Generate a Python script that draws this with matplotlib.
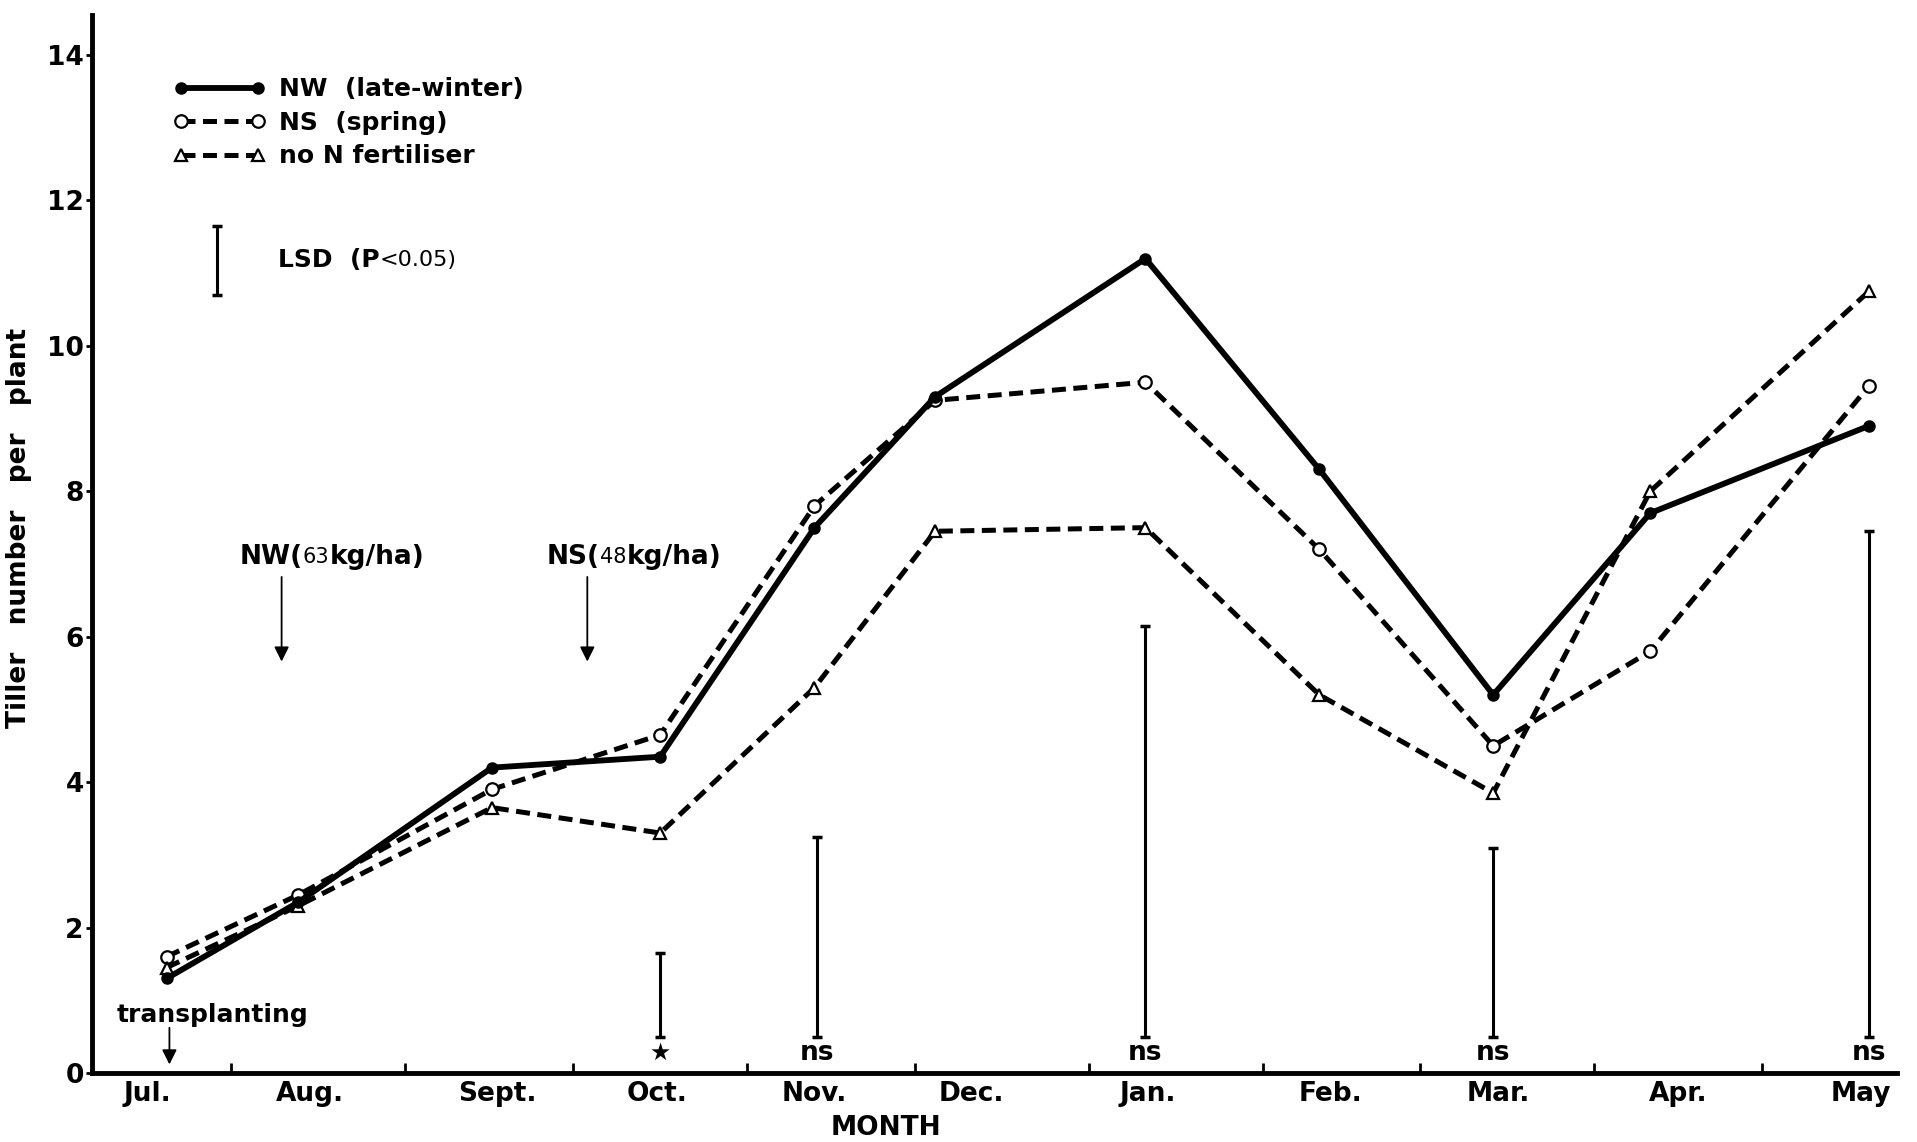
import matplotlib
matplotlib.use("Agg")
import matplotlib.pyplot as plt

plt.rcParams['font.family'] = ['DejaVu Sans']
plt.rcParams['font.weight'] = 'bold'
plt.rcParams['axes.labelweight'] = 'bold'

# sampling dates, days after 1 July
days = [19.5, 43, 77.5, 107.5, 135, 156.5, 194, 225, 256, 284, 323]

# tiller number per plant
nw = [1.3, 2.35, 4.2, 4.35, 7.5, 9.3, 11.2, 8.3, 5.2, 7.7, 8.9]
ns = [1.6, 2.45, 3.9, 4.65, 7.8, 9.25, 9.5, 7.2, 4.5, 5.8, 9.45]
no_n = [1.45, 2.3, 3.65, 3.3, 5.3, 7.45, 7.5, 5.2, 3.85, 8.0, 10.75]

# LSD bars (P<0.05) with significance
lsd_days = [107.5, 135.5, 194, 256, 323]
lsd_low = [0.5, 0.5, 0.5, 0.5, 0.5]
lsd_high = [1.65, 3.25, 6.15, 3.1, 7.45]
lsd_sig = ['★', 'ns', 'ns', 'ns', 'ns']

# month axis
month_starts = [31, 62, 92, 123, 153, 184, 215, 243, 274, 304]
month_mid = [16, 45, 78.5, 107, 135, 163, 194.5, 227, 257, 289, 321.5]
month_names = ['Jul.', 'Aug.', 'Sept.', 'Oct.', 'Nov.', 'Dec.', 'Jan.',
               'Feb.', 'Mar.', 'Apr.', 'May']

# event days
transplant_day = 20
nw_day = 40
ns_day = 94.5

fig = plt.figure(figsize=(19.17, 11.42), dpi=100)
ax = fig.add_axes([0.048, 0.0604, 0.9416, 0.9265])

dash = (2.8, 1.5)
ax.plot(days, nw, color='black', lw=4.2, marker='o', ms=8, mfc='black',
        mec='black', label='NW  (late-winter)', zorder=4)
ax.plot(days, ns, color='black', lw=3.6, dashes=dash, marker='o', ms=9,
        mfc='white', mec='black', mew=1.6, label='NS  (spring)', zorder=3)
ax.plot(days, no_n, color='black', lw=3.6, dashes=dash, marker='^', ms=9,
        mfc='white', mec='black', mew=1.6, label='no N fertiliser', zorder=3)

# LSD bars
ax.vlines(lsd_days, lsd_low, lsd_high, color='black', lw=2.2)
ax.plot(lsd_days, lsd_low, ls='none', marker='_', ms=7, mew=2.5, color='black')
ax.plot(lsd_days, lsd_high, ls='none', marker='_', ms=7, mew=2.5, color='black')
for d, s in zip(lsd_days, lsd_sig):
    ax.text(d, 0.27, s, ha='center', va='center', fontsize=17 if s == '★' else 19)

# legend LSD bar
ax.vlines([28.4], [10.7], [11.65], color='black', lw=2.2)
ax.plot([28.4, 28.4], [10.7, 11.65], ls='none', marker='_', ms=7, mew=2.5, color='black')
t = ax.text(39.3, 11.18, 'LSD  (P', fontsize=18, va='center', ha='left')
ax.annotate('<0.05)', xy=(1, 0.5), xycoords=t, va='center', ha='left',
            fontsize=16, weight='normal')

leg = ax.legend(loc='upper left', bbox_to_anchor=(0.045, 0.941), frameon=False,
                numpoints=2, handlelength=3.7, handletextpad=0.55,
                labelspacing=0.38, borderpad=0, borderaxespad=0, fontsize=18)

# annotations
arrow = dict(arrowstyle='-|>', lw=1.3, color='black', mutation_scale=22)
ax.text(10.5, 0.8, 'transplanting', fontsize=18, va='center', ha='left')
ax.annotate('', xy=(transplant_day, 0.08), xytext=(transplant_day, 0.66), arrowprops=arrow)

for x0, dose, d in [(32.5, '63', nw_day), (87.3, '48', ns_day)]:
    name = 'NW(' if d == nw_day else 'NS('
    t1 = ax.text(x0, 7.1, name, fontsize=19, va='center', ha='left')
    t2 = ax.annotate(dose, xy=(1, 0.5), xycoords=t1, va='center', ha='left',
                     fontsize=15, weight='normal')
    ax.annotate('kg/ha)', xy=(1, 0.5), xycoords=t2, va='center', ha='left', fontsize=19)
    ax.annotate('', xy=(d, 5.62), xytext=(d, 6.86), arrowprops=arrow)

# axes
ax.set_xlim(6.2, 328)
ax.set_ylim(0, 14.55)
for side in ['top', 'right']:
    ax.spines[side].set_visible(False)
for side in ['left', 'bottom']:
    ax.spines[side].set_linewidth(3.5)

ax.set_yticks(range(0, 15, 2))
ax.tick_params(axis='y', direction='out', length=4, width=2, labelsize=19, pad=2)
ax.set_xticks(month_starts)
ax.set_xticklabels([])
ax.tick_params(axis='x', which='major', direction='in', length=7, width=2)
ax.set_xticks(month_mid, minor=True)
ax.set_xticklabels(month_names, minor=True)
ax.tick_params(axis='x', which='minor', length=0, labelsize=19, pad=6)

ax.set_xlabel('MONTH', fontsize=19)
ax.xaxis.set_label_coords(0.44, -0.04)
ax.set_ylabel('Tiller   number   per   plant', fontsize=19)
ax.yaxis.set_label_coords(-0.033, 0.515)

fig.savefig('out.png', dpi=100)
